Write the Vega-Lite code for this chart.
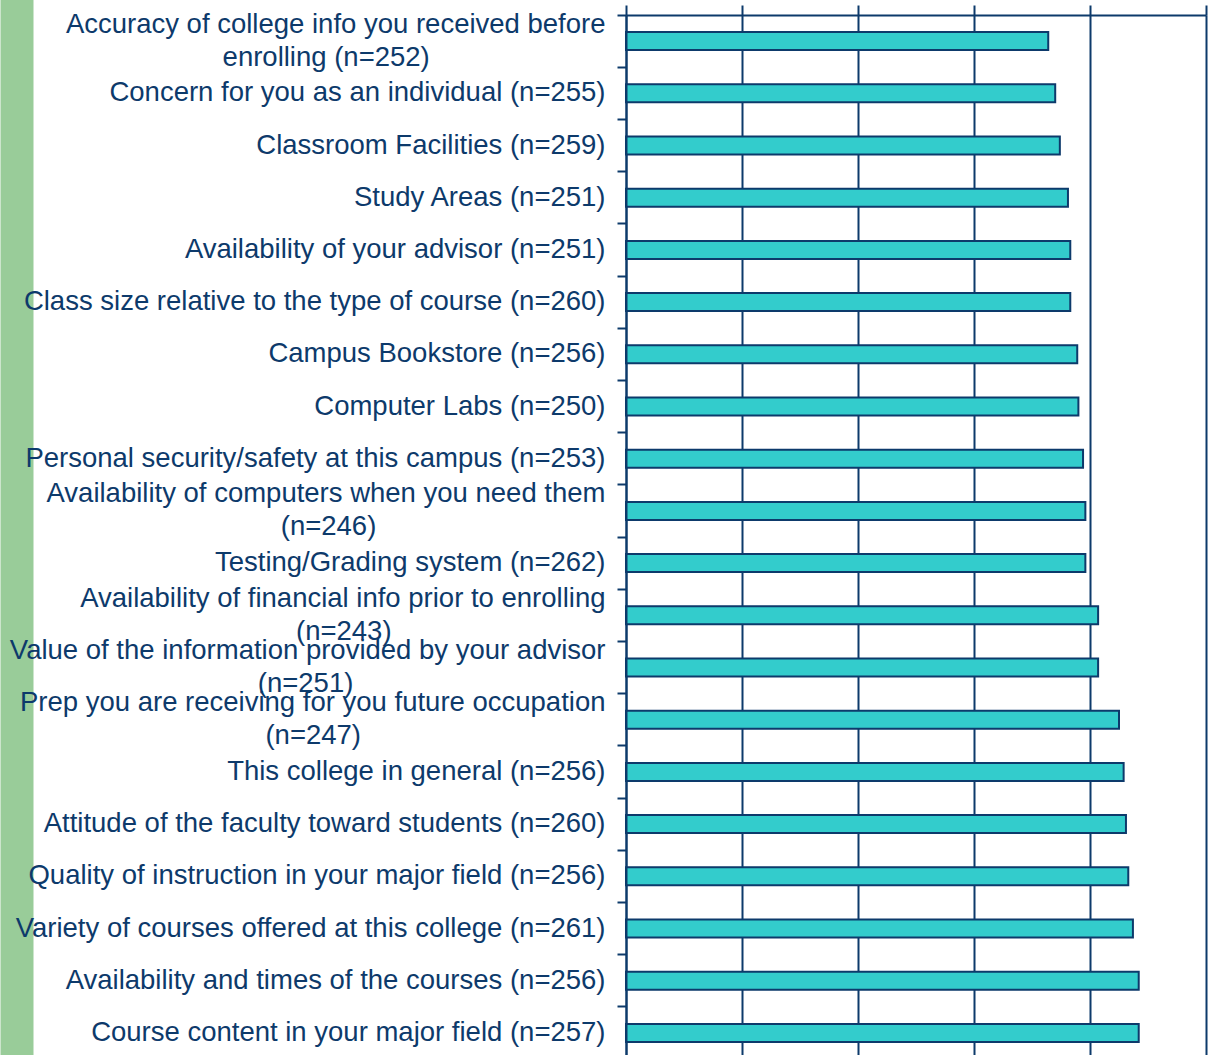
{
  "$schema": "https://vega.github.io/schema/vega-lite/v6.json",
  "autosize": "none",
  "width": 580,
  "height": 1044,
  "padding": {"left": 626, "top": 15, "right": 2, "bottom": 0},
  "background": "white",
  "config": {"view": {"stroke": null}, "font": "Liberation Sans"},
  "data": {
    "values": [
      {"label": "Accuracy of college info you received before|enrolling (n=252)", "score": 3.64},
      {"label": "Concern for you as an individual (n=255)", "score": 3.70},
      {"label": "Classroom Facilities (n=259)", "score": 3.74},
      {"label": "Study Areas (n=251)", "score": 3.81},
      {"label": "Availability of your advisor (n=251)", "score": 3.83},
      {"label": "Class size relative to the type of course (n=260)", "score": 3.83},
      {"label": "Campus Bookstore (n=256)", "score": 3.89},
      {"label": "Computer Labs (n=250)", "score": 3.90},
      {"label": "Personal security/safety at this campus (n=253)", "score": 3.94},
      {"label": "Availability of computers when you need them|(n=246)", "score": 3.96},
      {"label": "Testing/Grading system (n=262)", "score": 3.96},
      {"label": "Availability of financial info prior to enrolling|(n=243)", "score": 4.07},
      {"label": "Value of the information provided by your advisor|(n=251)", "score": 4.07},
      {"label": "Prep you are receiving for you future occupation|(n=247)", "score": 4.25},
      {"label": "This college in general (n=256)", "score": 4.29},
      {"label": "Attitude of the faculty toward students (n=260)", "score": 4.31},
      {"label": "Quality of instruction in your major field (n=256)", "score": 4.33},
      {"label": "Variety of courses offered at this college (n=261)", "score": 4.37},
      {"label": "Availability and times of the courses (n=256)", "score": 4.42},
      {"label": "Course content in your major field (n=257)", "score": 4.42}
    ]
  },
  "layer": [
    {
      "mark": {"type": "bar", "opacity": 0},
      "encoding": {
        "y": {
          "field": "label", "type": "nominal", "sort": null,
          "scale": {"paddingInner": 0, "paddingOuter": 0},
          "axis": {
            "orient": "left",
            "title": null, "labels": false, "ticks": false, "grid": false,
            "domain": true, "domainColor": "#99cc99", "domainWidth": 33,
            "domainCap": "square", "offset": 609.5, "zindex": 0
          }
        }
      }
    },
    {
      "mark": {"type": "bar", "fill": "#33cccc", "stroke": "#0d3a6b", "strokeWidth": 2, "size": 18},
      "encoding": {
        "y": {
          "field": "label", "type": "nominal", "sort": null,
          "scale": {"paddingInner": 0, "paddingOuter": 0},
          "axis": {
            "orient": "left",
            "title": null,
            "labelExpr": "length(split(datum.label,'|')) > 1 ? [split(datum.label,'|')[0], pad(split(datum.label,'|')[1], length(split(datum.label,'|')[1]) + round(1.05 * (length(split(datum.label,'|')[0]) - length(split(datum.label,'|')[1])) - 0.64 * (length(replace(split(datum.label,'|')[0], regexp('[^ilfjtr ()]','g'), '')) - length(replace(split(datum.label,'|')[1], regexp('[^ilfjtr ()]','g'), '')))), '\u00a0', 'right') + '\u200b'] : datum.label",
            "labelOffset": {"condition": {"test": "indexof(datum.value, '|') >= 0", "value": -16.5}, "value": 0},
            "labelFont": "Liberation Sans", "labelFontSize": 27.5, "labelColor": "#0d3a6b",
            "labelLineHeight": 33, "labelPadding": 12, "labelLimit": 1200,
            "ticks": true, "tickSize": 9, "tickWidth": 2, "tickColor": "#0d3a6b", "bandPosition": 0,
            "domain": true, "domainColor": "#0d3a6b", "domainWidth": 2,
            "grid": false, "zindex": 1
          }
        },
        "x": {
          "field": "score", "type": "quantitative",
          "scale": {"domain": [0, 5], "nice": false},
          "axis": {
            "orient": "top", "title": null, "labels": false, "values": [0, 1, 2, 3, 4, 5],
            "ticks": true, "tickSize": 10, "tickWidth": 2, "tickColor": "#0d3a6b",
            "domain": true, "domainColor": "#0d3a6b", "domainWidth": 2,
            "grid": true, "gridColor": "#0d3a6b", "gridWidth": 2, "gridOpacity": 1
          }
        }
      }
    }
  ],
  "resolve": {"axis": {"y": "independent"}}
}
